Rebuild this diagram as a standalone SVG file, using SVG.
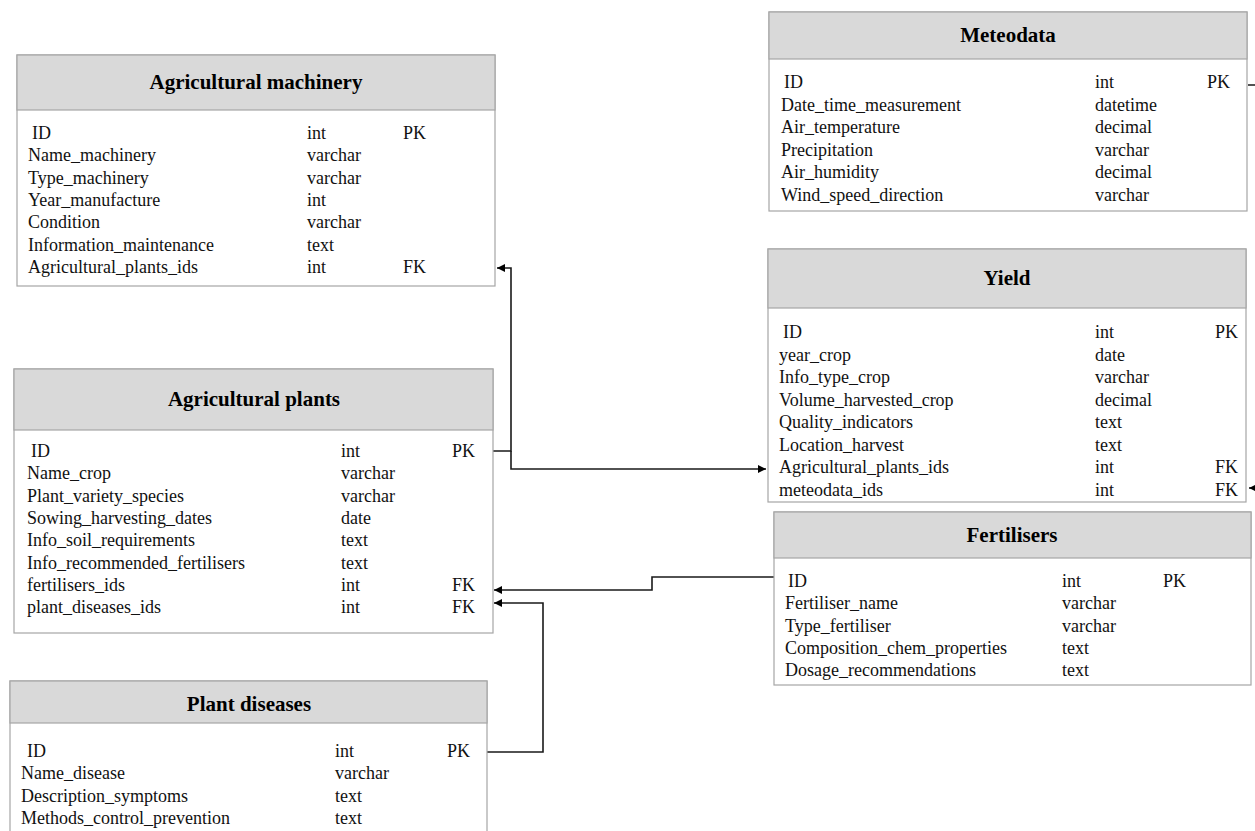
<svg xmlns="http://www.w3.org/2000/svg" width="1255" height="831" viewBox="0 0 1255 831">
<defs>
<style>
.box{fill:#fff;stroke:#a6a6a6;stroke-width:1.2}
.hdr{fill:#d9d9d9;stroke:#a6a6a6;stroke-width:1.2}
.ttl{font-family:"Liberation Serif","Times New Roman",serif;font-weight:bold;font-size:21px;fill:#000;text-anchor:middle}
.row{font-family:"Liberation Serif","Times New Roman",serif;font-size:18px;fill:#111}
.con{fill:none;stroke:#1a1a1a;stroke-width:1.6}
</style>
<marker id="arr" viewBox="0 0 10 10" refX="10" refY="5" markerWidth="10" markerHeight="8" markerUnits="userSpaceOnUse" orient="auto">
<path d="M0,0 L10,5 L0,10 z" fill="#000"/>
</marker>
</defs>
<rect width="1255" height="831" fill="#fff"/>

<g id="connectors">
<path class="con" d="M1248,85 H1265 V488 H1249" marker-end="url(#arr)"/>
<path class="con" d="M493,451 H511 V268 H497" marker-end="url(#arr)"/>
<path class="con" d="M511,451 V469 H766" marker-end="url(#arr)"/>
<path class="con" d="M774,577 H652 V590 H494" marker-end="url(#arr)"/>
<path class="con" d="M487,752 H543 V603 H494" marker-end="url(#arr)"/>
</g>

<g id="meteodata">
<rect class="box" x="769" y="12" width="478" height="199"/>
<rect class="hdr" x="769" y="12" width="478" height="47"/>
<text class="ttl" x="1008" y="42">Meteodata</text>
<text class="row" x="784" y="88">ID</text><text class="row" x="1095" y="88">int</text><text class="row" x="1207" y="88">PK</text>
<text class="row" x="781" y="110.5">Date_time_measurement</text><text class="row" x="1095" y="110.5">datetime</text>
<text class="row" x="781" y="133">Air_temperature</text><text class="row" x="1095" y="133">decimal</text>
<text class="row" x="781" y="155.5">Precipitation</text><text class="row" x="1095" y="155.5">varchar</text>
<text class="row" x="781" y="178">Air_humidity</text><text class="row" x="1095" y="178">decimal</text>
<text class="row" x="781" y="200.5">Wind_speed_direction</text><text class="row" x="1095" y="200.5">varchar</text>
</g>

<g id="yield">
<rect class="box" x="768" y="249" width="478" height="253"/>
<rect class="hdr" x="768" y="249" width="478" height="59"/>
<text class="ttl" x="1007" y="285">Yield</text>
<text class="row" x="783" y="338">ID</text><text class="row" x="1095" y="338">int</text><text class="row" x="1215" y="338">PK</text>
<text class="row" x="779" y="360.5">year_crop</text><text class="row" x="1095" y="360.5">date</text>
<text class="row" x="779" y="383">Info_type_crop</text><text class="row" x="1095" y="383">varchar</text>
<text class="row" x="779" y="405.5">Volume_harvested_crop</text><text class="row" x="1095" y="405.5">decimal</text>
<text class="row" x="779" y="428">Quality_indicators</text><text class="row" x="1095" y="428">text</text>
<text class="row" x="779" y="450.5">Location_harvest</text><text class="row" x="1095" y="450.5">text</text>
<text class="row" x="779" y="473">Agricultural_plants_ids</text><text class="row" x="1095" y="473">int</text><text class="row" x="1215" y="473">FK</text>
<text class="row" x="779" y="495.5">meteodata_ids</text><text class="row" x="1095" y="495.5">int</text><text class="row" x="1215" y="495.5">FK</text>
</g>

<g id="agricultural-machinery">
<rect class="box" x="17" y="55" width="478" height="231"/>
<rect class="hdr" x="17" y="55" width="478" height="55"/>
<text class="ttl" x="256" y="89">Agricultural machinery</text>
<text class="row" x="32" y="139">ID</text><text class="row" x="307" y="139">int</text><text class="row" x="403" y="139">PK</text>
<text class="row" x="28" y="161.3">Name_machinery</text><text class="row" x="307" y="161.3">varchar</text>
<text class="row" x="28" y="183.6">Type_machinery</text><text class="row" x="307" y="183.6">varchar</text>
<text class="row" x="28" y="205.9">Year_manufacture</text><text class="row" x="307" y="205.9">int</text>
<text class="row" x="28" y="228.2">Condition</text><text class="row" x="307" y="228.2">varchar</text>
<text class="row" x="28" y="250.5">Information_maintenance</text><text class="row" x="307" y="250.5">text</text>
<text class="row" x="28" y="272.8">Agricultural_plants_ids</text><text class="row" x="307" y="272.8">int</text><text class="row" x="403" y="272.8">FK</text>
</g>

<g id="agricultural-plants">
<rect class="box" x="14" y="369" width="479" height="264"/>
<rect class="hdr" x="14" y="369" width="479" height="61"/>
<text class="ttl" x="254" y="406">Agricultural plants</text>
<text class="row" x="31" y="457">ID</text><text class="row" x="341" y="457">int</text><text class="row" x="452" y="457">PK</text>
<text class="row" x="27" y="479.3">Name_crop</text><text class="row" x="341" y="479.3">varchar</text>
<text class="row" x="27" y="501.6">Plant_variety_species</text><text class="row" x="341" y="501.6">varchar</text>
<text class="row" x="27" y="523.9">Sowing_harvesting_dates</text><text class="row" x="341" y="523.9">date</text>
<text class="row" x="27" y="546.2">Info_soil_requirements</text><text class="row" x="341" y="546.2">text</text>
<text class="row" x="27" y="568.5">Info_recommended_fertilisers</text><text class="row" x="341" y="568.5">text</text>
<text class="row" x="27" y="590.8">fertilisers_ids</text><text class="row" x="341" y="590.8">int</text><text class="row" x="452" y="590.8">FK</text>
<text class="row" x="27" y="613.1">plant_diseases_ids</text><text class="row" x="341" y="613.1">int</text><text class="row" x="452" y="613.1">FK</text>
</g>

<g id="fertilisers">
<rect class="box" x="774" y="512" width="477" height="173"/>
<rect class="hdr" x="774" y="512" width="477" height="46"/>
<text class="ttl" x="1012" y="542">Fertilisers</text>
<text class="row" x="788" y="587">ID</text><text class="row" x="1062" y="587">int</text><text class="row" x="1163" y="587">PK</text>
<text class="row" x="785" y="609.3">Fertiliser_name</text><text class="row" x="1062" y="609.3">varchar</text>
<text class="row" x="785" y="631.6">Type_fertiliser</text><text class="row" x="1062" y="631.6">varchar</text>
<text class="row" x="785" y="653.9">Composition_chem_properties</text><text class="row" x="1062" y="653.9">text</text>
<text class="row" x="785" y="676.2">Dosage_recommendations</text><text class="row" x="1062" y="676.2">text</text>
</g>

<g id="plant-diseases">
<rect class="box" x="10" y="681" width="477" height="170"/>
<rect class="hdr" x="10" y="681" width="477" height="42"/>
<text class="ttl" x="249" y="711">Plant diseases</text>
<text class="row" x="27" y="757">ID</text><text class="row" x="335" y="757">int</text><text class="row" x="447" y="757">PK</text>
<text class="row" x="21" y="779.3">Name_disease</text><text class="row" x="335" y="779.3">varchar</text>
<text class="row" x="21" y="801.6">Description_symptoms</text><text class="row" x="335" y="801.6">text</text>
<text class="row" x="21" y="823.9">Methods_control_prevention</text><text class="row" x="335" y="823.9">text</text>
</g>
</svg>
